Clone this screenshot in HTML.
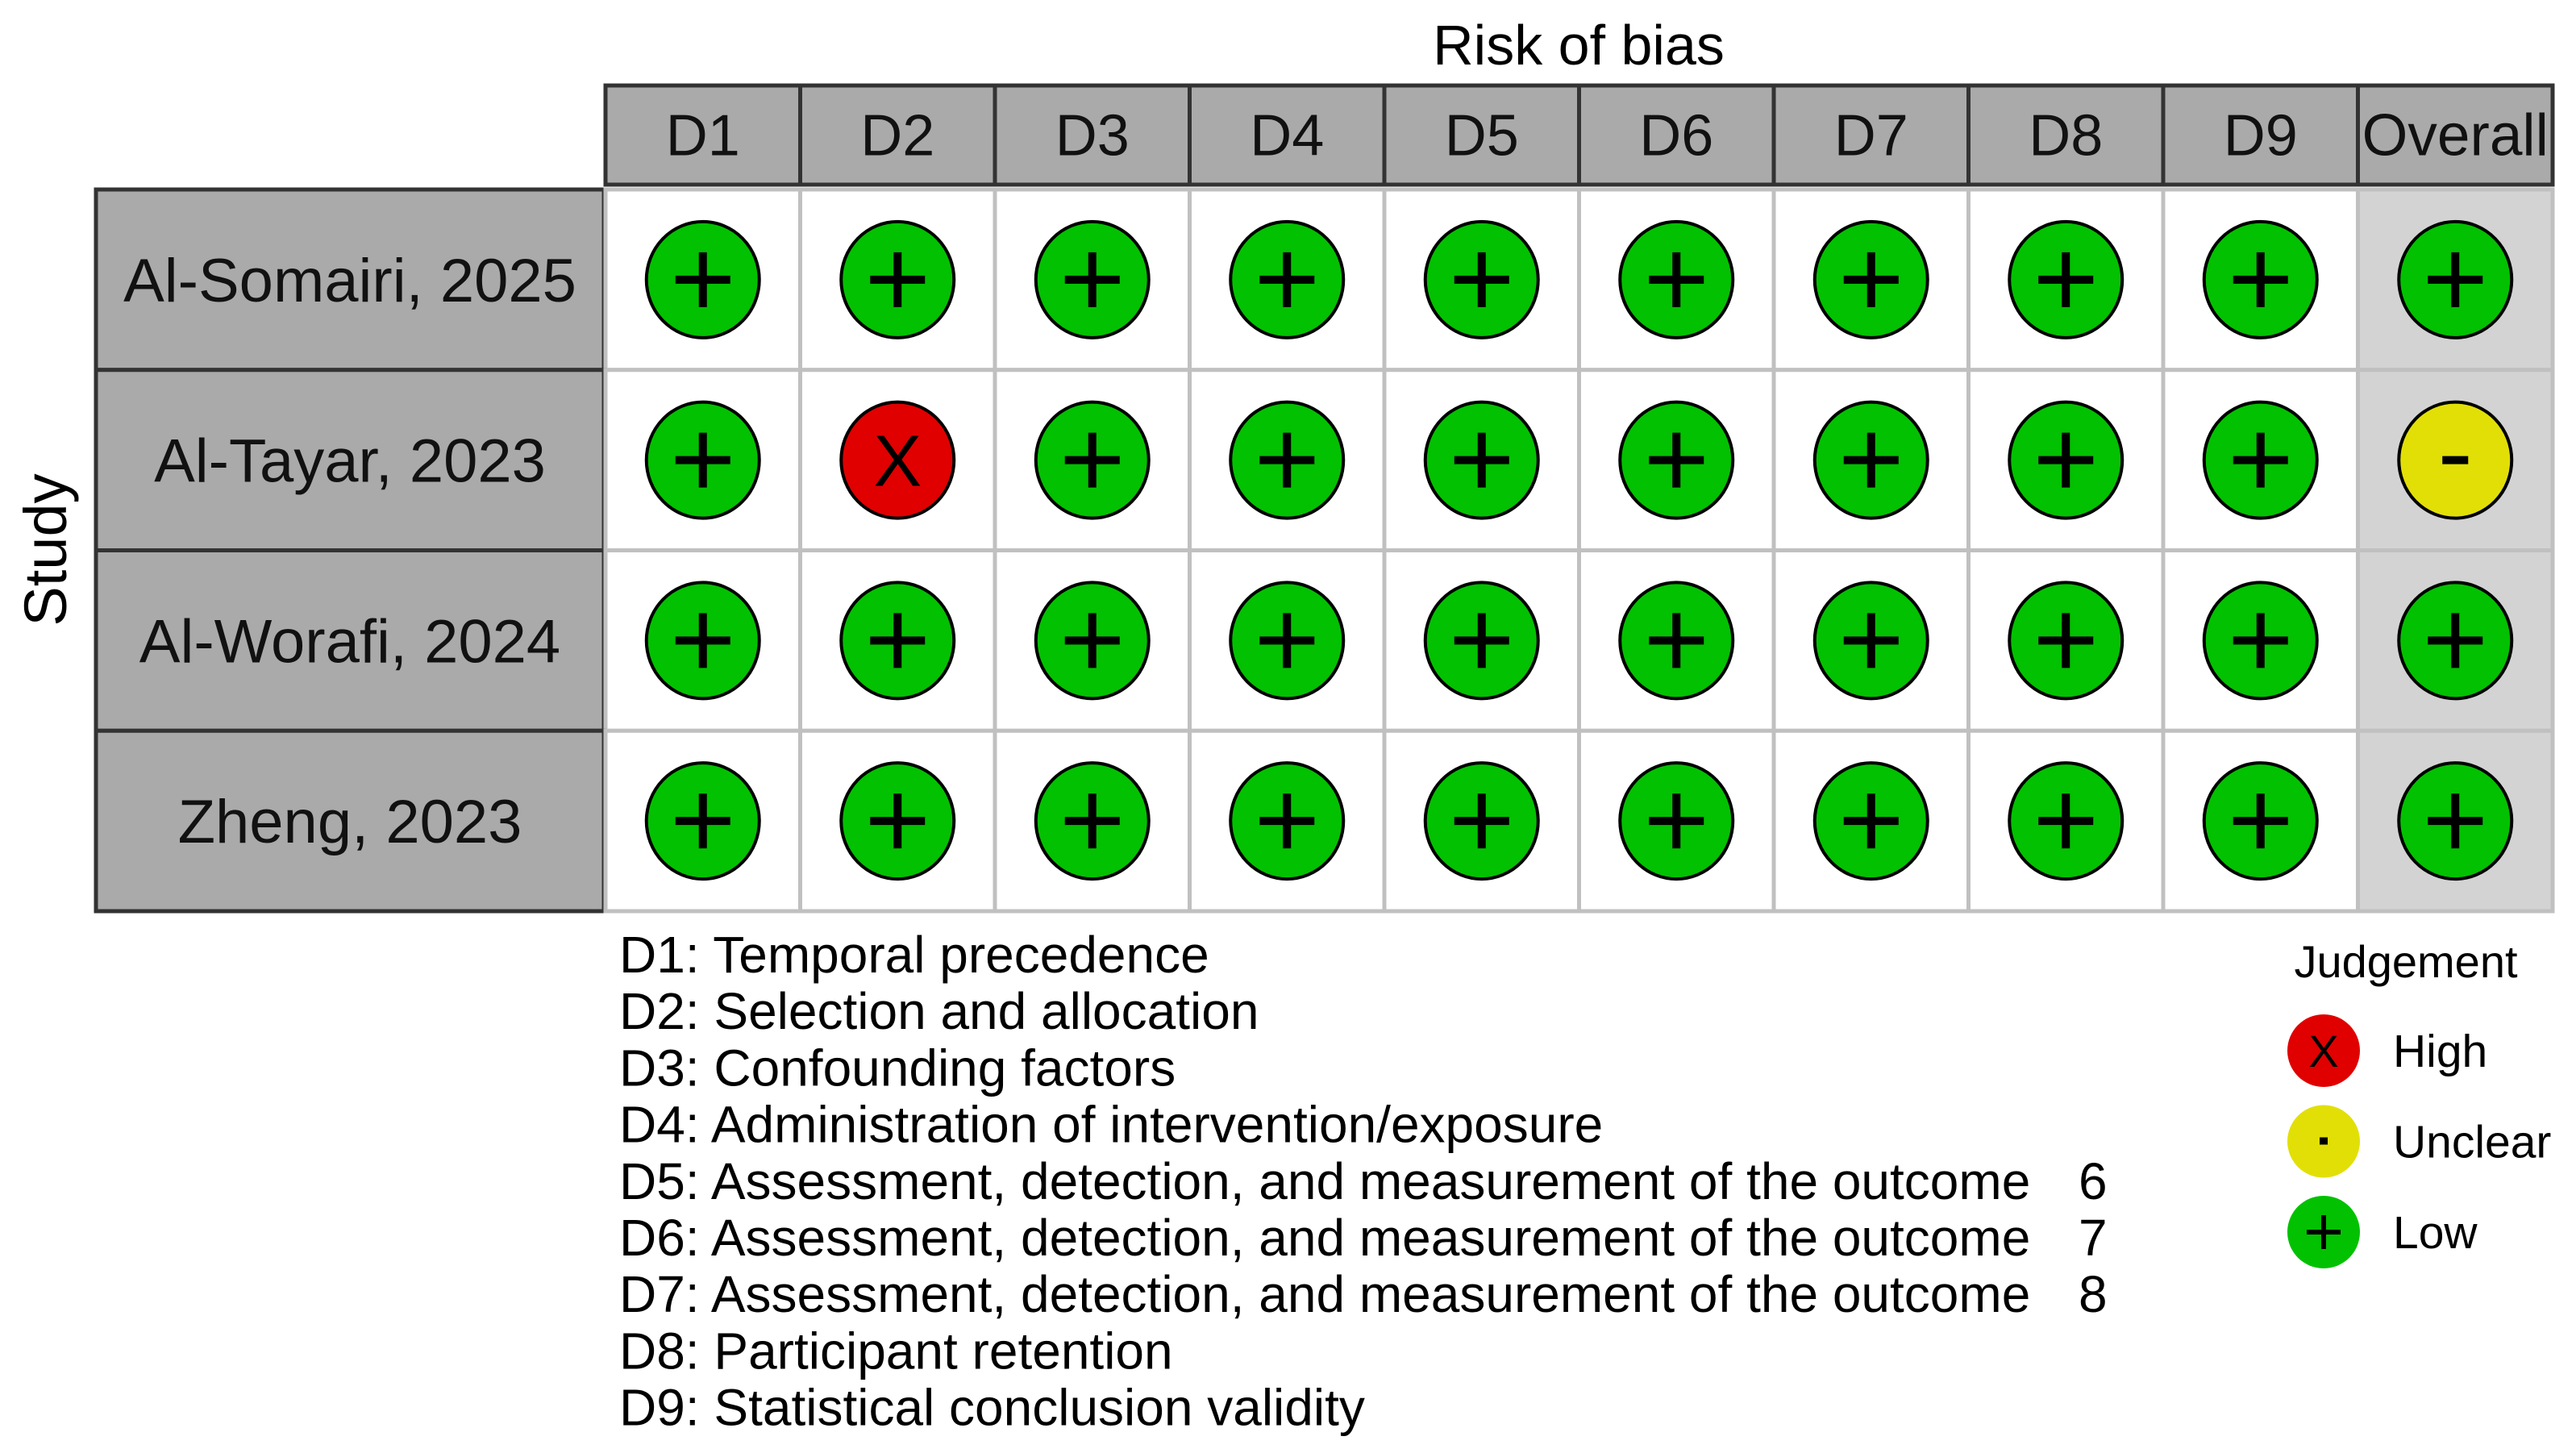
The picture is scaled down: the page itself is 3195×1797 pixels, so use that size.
<!DOCTYPE html>
<html><head><meta charset="utf-8"><style>
html,body{margin:0;padding:0;background:#fff;}
svg{display:block;font-family:"Liberation Sans",sans-serif;}
</style></head><body>
<svg id="chart" width="3195" height="1797" viewBox="0 0 3195 1797" xmlns="http://www.w3.org/2000/svg"></svg>
<script>
const studies = ["Al-Somairi, 2025","Al-Tayar, 2023","Al-Worafi, 2024","Zheng, 2023"];
const domains = ["D1","D2","D3","D4","D5","D6","D7","D8","D9","Overall"];
const judgements = [
  ["+","+","+","+","+","+","+","+","+","+"],
  ["+","X","+","+","+","+","+","+","+","-"],
  ["+","+","+","+","+","+","+","+","+","+"],
  ["+","+","+","+","+","+","+","+","+","+"]
];
const domainDescriptions = [
  "D1: Temporal precedence",
  "D2: Selection and allocation",
  "D3: Confounding factors",
  "D4: Administration of intervention/exposure",
  "D5: Assessment, detection, and measurement of the outcome",
  "D6: Assessment, detection, and measurement of the outcome",
  "D7: Assessment, detection, and measurement of the outcome",
  "D8: Participant retention",
  "D9: Statistical conclusion validity"
];
const descSuffix = ["","","","","6","7","8","",""];
const legendKeys = ["X","-","+"];
const legendLabels = ["High","Unclear","Low"];

const NS="http://www.w3.org/2000/svg";
const svg=document.getElementById('chart');
function mk(tag,attrs,parent){const e=document.createElementNS(NS,tag);for(const k in attrs)e.setAttribute(k,attrs[k]);(parent||svg).appendChild(e);return e;}
const colors={"+":"#02C100","X":"#E00000","-":"#E2DF07"};

const gridLeft=751, colW=(3166-751)/domains.length;
const headTop=106, headBot=229, rowTop=235, rowH=(1130-235)/studies.length;
const labelLeft=119, labelRight=749;
const xCol=i=>gridLeft+i*colW;
const yRow=j=>rowTop+j*rowH;

let t=mk('text',{x:1958,y:80,'font-size':70,'text-anchor':'middle',fill:'#000'});
t.textContent="Risk of bias";


t=mk('text',{x:0,y:0,'font-size':74,'text-anchor':'middle',fill:'#000',transform:'translate(82,682) rotate(-90)'});
t.textContent="Study";



domains.forEach((d,i)=>{
  const g=mk('g',{});
  
  
  mk('rect',{x:xCol(i),y:headTop,width:colW,height:headBot-headTop,fill:'#aaaaaa',stroke:'#333','stroke-width':5},g);
  const tx=mk('text',{x:xCol(i)+colW/2,y:(headTop+headBot)/2+25,'font-size':d==="Overall"?73:72,'text-anchor':'middle',fill:'#111'},g);
  tx.textContent=d;
});

studies.forEach((s,j)=>{
  const g=mk('g',{});
  
  
  mk('rect',{x:labelLeft,y:yRow(j),width:labelRight-labelLeft,height:rowH,fill:'#aaaaaa',stroke:'#333','stroke-width':5},g);
  const tx=mk('text',{x:(labelLeft+labelRight)/2,y:yRow(j)+rowH/2+27,'font-size':76,'text-anchor':'middle',fill:'#111'},g);
  tx.textContent=s;
  domains.forEach((d,i)=>{
    const c=mk('g',{});
    
    
    mk('rect',{x:xCol(i),y:yRow(j),width:colW,height:rowH,fill:d==="Overall"?'#d3d3d3':'#fff',stroke:'#c0c0c0','stroke-width':5},c);
    const v=judgements[j][i];
    drawMark(c,xCol(i)+colW/2,yRow(j)+rowH/2,70,72,v,1);
  });
});

function drawMark(parent,cx,cy,rx,ry,v,sc){
  mk('ellipse',{cx:cx,cy:cy,rx:rx,ry:ry,fill:colors[v],stroke:'#000','stroke-width':4},parent);
  if(v==="+"){
    const L=34*sc,w=10*sc;
    mk('rect',{x:cx-L,y:cy-w/2,width:2*L,height:w,fill:'#000'},parent);
    mk('rect',{x:cx-w/2,y:cy-L,width:w,height:2*L,fill:'#000'},parent);
  } else if(v==="-"){
    mk('rect',{x:cx-16*sc,y:cy-5*sc,width:32*sc,height:10*sc,fill:'#000'},parent);
  } else {
    const tx=mk('text',{x:cx,y:cy+32*sc,'font-size':90*sc,'text-anchor':'middle',fill:'#000'},parent);
    tx.textContent="X";
  }
}

domainDescriptions.forEach((d,k)=>{
  const tx=mk('text',{x:768,y:1206+k*70.2,'font-size':64,fill:'#000'});
  tx.textContent=d;
  
  
  if(descSuffix[k]){
    const s=mk('text',{x:2578,y:1206+k*70.2,'font-size':64,fill:'#000'});
    s.textContent=descSuffix[k];
    
    
  }
});

t=mk('text',{x:2984,y:1212,'font-size':56,'text-anchor':'middle',fill:'#000'});
t.textContent="Judgement";


legendKeys.forEach((k,i)=>{
  const g=mk('g',{});
  
  
  const cy=1303+i*112.5, cx=2882;
  mk('ellipse',{cx:cx,cy:cy,rx:45,ry:45,fill:colors[k],stroke:'none'},g);
  if(k==="+"){
    mk('rect',{x:cx-21,y:cy-3,width:42,height:6,fill:'#000'},g);
    mk('rect',{x:cx-3,y:cy-21,width:6,height:42,fill:'#000'},g);
  } else if(k==="-"){
    mk('rect',{x:cx-5,y:cy-5,width:10,height:9,fill:'#000'},g);
  } else {
    const x=mk('text',{x:cx,y:cy+20,'font-size':56,'text-anchor':'middle',fill:'#000'},g);
    x.textContent="X";
  }
  const lt=mk('text',{x:2968,y:cy+20,'font-size':57,fill:'#000'},g);
  lt.textContent=legendLabels[i];
});
</script>
</body></html>
